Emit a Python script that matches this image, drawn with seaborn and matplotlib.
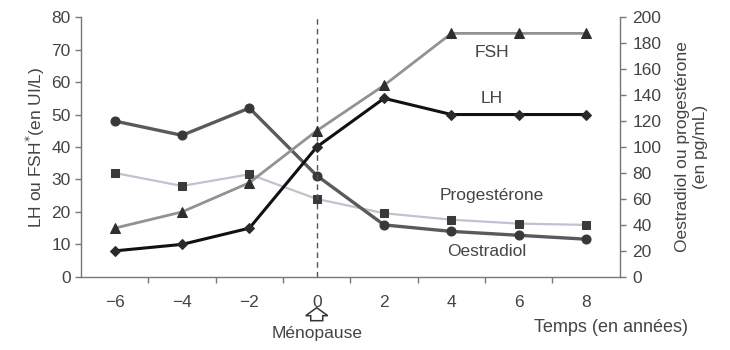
import matplotlib
matplotlib.use("Agg")
import matplotlib.pyplot as plt
import matplotlib.patches as mpatches
import matplotlib.transforms as mtransforms
import seaborn as sns
import pandas as pd

# Years relative to menopause
years = [-6, -4, -2, 0, 2, 4, 6, 8]

# Gonadotropins (UI/L), left axis
lh = [8, 10, 15, 40, 55, 50, 50, 50]
fsh = [15, 20, 29, 45, 59, 75, 75, 75]

# Steroids (pg/mL), right axis
oestradiol = [120, 109, 130, 78, 40, 35, 32, 29]
progesterone = [80, 70, 79, 60, 49, 44, 41, 40]

sns.set_theme(style="white")
plt.rcParams["font.family"] = ["Liberation Sans", "DejaVu Sans"]

text_col = "#444444"
spine_col = "#777777"
fs = 12.5

fig = plt.figure(figsize=(7.3, 3.5), dpi=100)
ax = fig.add_axes([0.111, 0.209, 0.738, 0.742])
ax2 = ax.twinx()

df_left = pd.DataFrame({"t": years, "LH": lh, "FSH": fsh})
df_right = pd.DataFrame({"t": years, "Oestradiol": oestradiol, "Progesterone": progesterone})

# Right-axis series
sns.lineplot(data=df_right, x="t", y="Progesterone", ax=ax2, color="#c4c0d0", lw=1.6,
             marker="s", markersize=5.5, markerfacecolor="#3a3a3a", markeredgecolor="#3a3a3a", zorder=2)
sns.lineplot(data=df_right, x="t", y="Oestradiol", ax=ax2, color="#5a5a5a", lw=2.4,
             marker="o", markersize=6.5, markerfacecolor="#383838", markeredgecolor="#383838", zorder=3)

# Left-axis series
sns.lineplot(data=df_left, x="t", y="FSH", ax=ax, color="#929292", lw=2.0,
             marker="^", markersize=7, markerfacecolor="#2e2e2e", markeredgecolor="#2e2e2e", zorder=3)
sns.lineplot(data=df_left, x="t", y="LH", ax=ax, color="#111111", lw=2.2,
             marker="D", markersize=5.5, markerfacecolor="#2a2a2a", markeredgecolor="#2a2a2a", zorder=4)

ax.set_zorder(ax2.get_zorder() + 1)
ax.patch.set_visible(False)

ax.set_xlim(-7, 9)
ax.set_ylim(0, 80)
ax2.set_ylim(0, 200)

ax.set_xticks(years)
ax.set_xticks([-5, -3, -1, 1, 3, 5, 7], minor=True)
ax.set_xticklabels(["\u22126", "\u22124", "\u22122", "0", "2", "4", "6", "8"])
ax.set_yticks(range(0, 81, 10))
ax2.set_yticks(range(0, 201, 20))

for a in (ax, ax2):
    a.tick_params(axis="both", which="both", colors=spine_col, labelcolor=text_col,
                  labelsize=fs, length=4, width=1, direction="out")
    a.tick_params(axis="x", which="minor", length=4, bottom=True)
    a.tick_params(axis="x", pad=9)
    a.spines["top"].set_visible(False)
    for side in ("left", "right", "bottom"):
        a.spines[side].set_color(spine_col)
        a.spines[side].set_linewidth(1)
    a.grid(False)
ax2.spines["left"].set_visible(False)
ax2.spines["bottom"].set_visible(False)
ax.spines["right"].set_visible(False)
ax.tick_params(axis="y", left=True, right=False)
ax2.tick_params(axis="y", right=True, left=False, pad=5)

ax.set_xlabel("")
ax.set_ylabel(r"LH ou FSH$^{*}$(en UI/L)", fontsize=fs, color=text_col, labelpad=3)
ax2.set_ylabel("Oestradiol ou progestérone\n(en pg/mL)", fontsize=fs, color=text_col,
               labelpad=10)

# Menopause marker: dashed line and an outlined up-arrow under the axis
ax.axvline(0, color="#555555", lw=1, ls=(0, (4, 3)), zorder=1)
arrow_shape = [(0, 0), (11, -8), (6, -8), (6, -13), (-6, -13), (-6, -8), (-11, -8)]
arrow_in = [(px / 100, py / 100) for px, py in arrow_shape]
arrow_tr = fig.dpi_scale_trans + mtransforms.ScaledTranslation(0, -9.5, ax.transData)
ax.add_patch(mpatches.Polygon(arrow_in, closed=True, transform=arrow_tr, fc="white",
                              ec="#333333", lw=1.1, clip_on=False, zorder=5))
ax.text(0, -17.3, "Ménopause", ha="center", va="center", fontsize=fs, color=text_col,
        clip_on=False)
ax.text(8.75, -15.5, "Temps (en années)", ha="center", va="center", fontsize=13,
        color=text_col, clip_on=False)

# Series labels
ax.text(5.2, 69.0, "FSH", ha="center", va="center", fontsize=fs, color=text_col)
ax.text(5.2, 55.0, "LH", ha="center", va="center", fontsize=fs, color=text_col)
ax.text(5.2, 25.2, "Progestérone", ha="center", va="center", fontsize=fs, color=text_col)
ax.text(5.05, 7.7, "Oestradiol", ha="center", va="center", fontsize=fs, color=text_col)

fig.savefig("out.png", dpi=100, facecolor="white")
